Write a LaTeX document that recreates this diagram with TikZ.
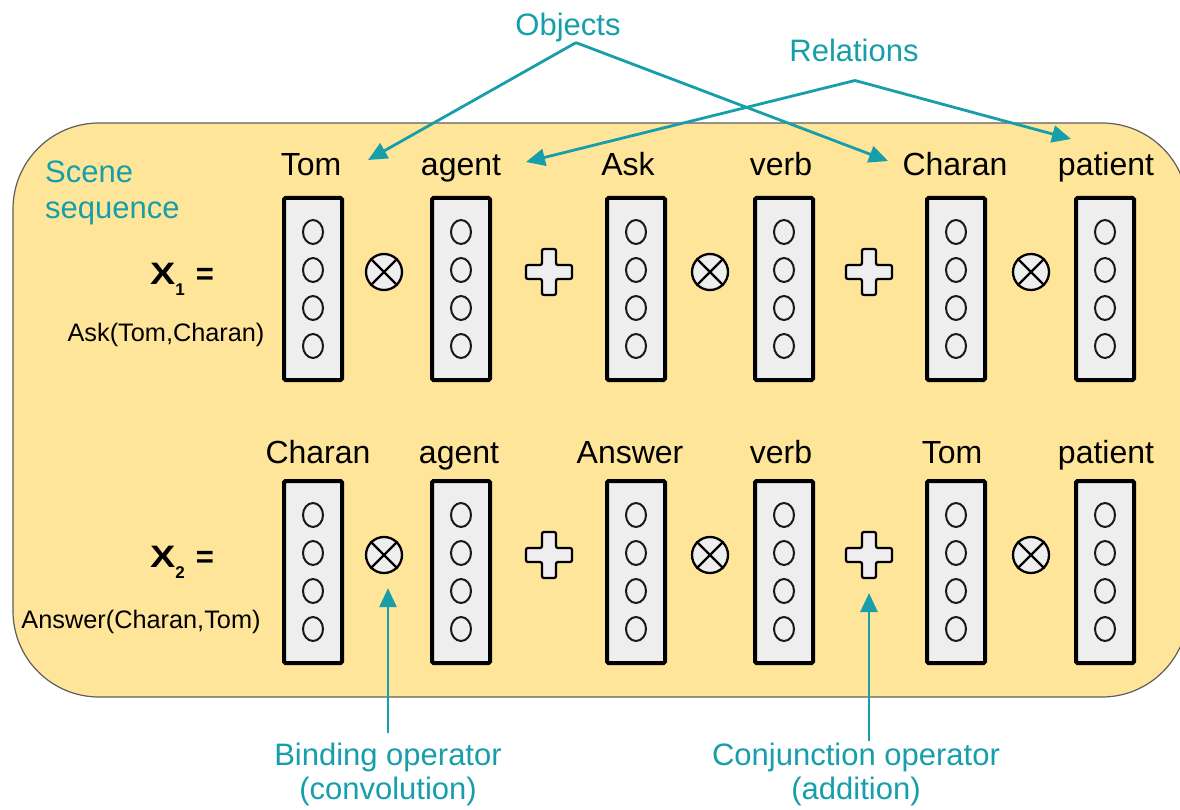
\documentclass[tikz,border=0pt]{standalone}
\usepackage{fontspec}
\setmainfont{Liberation Sans}
\usetikzlibrary{arrows.meta,calc}
\definecolor{bgyellow}{HTML}{FFE599}
\definecolor{teal1}{RGB}{22,158,170}
\definecolor{boxgray}{HTML}{EEEEEE}
\definecolor{rimgray}{HTML}{5E5E5E}
\tikzset{
  lbl/.style={anchor=base,inner sep=0pt,font=\fontsize{32}{37}\selectfont},
  tlbl/.style={anchor=base,inner sep=0pt,text=teal1,font=\fontsize{31}{37}\selectfont},
  small/.style={anchor=base,inner sep=0pt,font=\fontsize{25.3}{28}\selectfont},
  vecbox/.style={draw=black,line width=4pt,fill=boxgray,minimum width=58pt,minimum height=182pt,rounded corners=1.5pt,inner sep=0pt},
  ocirc/.style={draw=black!90,line width=2pt},
  otimes/.style={circle,draw=black,line width=2.3pt,fill=boxgray,minimum size=36pt,inner sep=0pt},
  plusop/.style={draw=black,line width=2.3pt,fill=boxgray,rounded corners=2pt},
  tarrow/.style={draw=teal1,line width=2.8pt,-{Triangle[length=19pt,width=17pt]}},
  plussign/.pic={
    \path[plusop] (-7,-23) -- (7,-23) -- (7,-7) -- (23,-7) -- (23,7) -- (7,7) -- (7,23) -- (-7,23) -- (-7,7) -- (-23,7) -- (-23,-7) -- (-7,-7) -- cycle;
    \coordinate (-c) at (0,0);
  }
}
\begin{document}
\begin{tikzpicture}[x=1pt,y=-1pt]
\useasboundingbox (0,0) rectangle (1180,810);
\clip (0,0) rectangle (1180,810);

% background panel
\draw[fill=bgyellow,draw=rimgray,line width=1.2pt,rounded corners=86pt] (13,123) rectangle (1188,697);

% scene sequence label
\node[tlbl,anchor=base west] (scene) at (45,183) {Scene};
\node[tlbl,anchor=base west] (sequence) at (45,219) {sequence};

% row labels
\node[anchor=base west,inner sep=0pt] (x1) at (150,284) {\fontsize{31}{32}\selectfont\bfseries\scalebox{1.22}[1]{X}\raisebox{-11pt}{\fontsize{17}{17}\selectfont 1}\hspace{11pt}=};
\node[small] (f1) at (166,341) {Ask(Tom,Charan)};
\node[anchor=base west,inner sep=0pt] (x2) at (150,567) {\fontsize{31}{32}\selectfont\bfseries\scalebox{1.22}[1]{X}\raisebox{-11pt}{\fontsize{17}{17}\selectfont 2}\hspace{11pt}=};
\node[small] (f2) at (141,628) {Answer(Charan,Tom)};

% word labels row 1
\node[lbl] (l11) at (311,176) {Tom};
\node[lbl] (l12) at (461,176) {agent};
\node[lbl] (l13) at (628,176) {Ask};
\node[lbl] (l14) at (781,176) {verb};
\node[lbl] (l15) at (955,176) {Charan};
\node[lbl] (l16) at (1106,176) {patient};
% word labels row 2
\node[lbl] (l21) at (318,463) {Charan};
\node[lbl] (l22) at (459,463) {agent};
\node[lbl] (l23) at (630,463) {Answer};
\node[lbl] (l24) at (781,463) {verb};
\node[lbl] (l25) at (952,463) {Tom};
\node[lbl] (l26) at (1106,463) {patient};

% vector boxes
\node[vecbox] (v11) at (313,289) {};
\node[vecbox] (v12) at (461,289) {};
\node[vecbox] (v13) at (636,289) {};
\node[vecbox] (v14) at (784,289) {};
\node[vecbox] (v15) at (956,289) {};
\node[vecbox] (v16) at (1105,289) {};
\node[vecbox] (v21) at (313,572) {};
\node[vecbox] (v22) at (461,572) {};
\node[vecbox] (v23) at (636,572) {};
\node[vecbox] (v24) at (784,572) {};
\node[vecbox] (v25) at (956,572) {};
\node[vecbox] (v26) at (1105,572) {};
\foreach \n in {v11,v12,v13,v14,v15,v16,v21,v22,v23,v24,v25,v26}{
  \foreach \dy in {-57,-19,19,57}{
    \draw[ocirc] ($(\n)+(0,\dy)$) ellipse [x radius=10pt, y radius=12pt];
  }
}

% binding operators
\node[otimes] (o11) at (384,272) {};
\node[otimes] (o12) at (710,272) {};
\node[otimes] (o13) at (1031,272) {};
\node[otimes] (o21) at (384,555) {};
\node[otimes] (o22) at (710,555) {};
\node[otimes] (o23) at (1031,555) {};
\foreach \n in {o11,o12,o13,o21,o22,o23}{
  \draw[line width=2.3pt] (\n.45) -- (\n.225) (\n.135) -- (\n.315);
}

% conjunction operators
\pic (p11) at (549,272) {plussign};
\pic (p12) at (869,272) {plussign};
\pic (p21) at (549,555) {plussign};
\pic (p22) at (869,555) {plussign};

% top annotations
\node[tlbl] (obj) at (568,36) {Objects};
\node[tlbl] (rel) at (854,62) {Relations};
\coordinate (objapex) at ([xshift=8pt]obj.south);
\coordinate (relapex) at ([xshift=1pt,yshift=-18pt]rel.south);
\coordinate (tipTom) at (368,160);
\coordinate (tipCharan) at (888,161);
\coordinate (tipAgent) at (526,162);
\coordinate (tipPatient) at (1071,139);
\draw[tarrow] (objapex) -- (tipTom);
\draw[tarrow] (objapex) -- (tipCharan);
\draw[tarrow] (relapex) -- (tipAgent);
\draw[tarrow] (relapex) -- (tipPatient);

% bottom annotations
\node[tlbl,anchor=north,align=center,font=\fontsize{31}{34}\selectfont] (bind) at (388,743) {Binding operator\\(convolution)};
\node[tlbl,anchor=north,align=center,font=\fontsize{31}{34}\selectfont] (conj) at (856,743) {Conjunction operator\\(addition)};
\draw[tarrow,shorten >=14pt] ([yshift=10pt]bind.north) -- (bind.north |- o21.south);
\draw[tarrow,shorten >=38pt] ([yshift=2pt]p22-c |- conj.north) -- (p22-c);
\end{tikzpicture}
\end{document}
